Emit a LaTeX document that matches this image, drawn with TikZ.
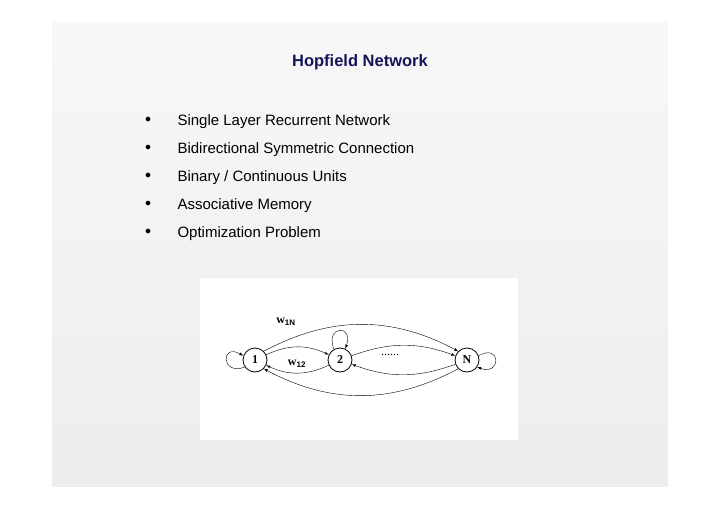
\documentclass[tikz,border=0pt]{standalone}
\usepackage{fontspec}
\setmainfont{Liberation Sans}
\newfontfamily\figfont{Liberation Serif}
\usetikzlibrary{arrows}
\definecolor{titleblue}{RGB}{20,20,90}
\begin{document}
\begin{tikzpicture}[x=1pt,y=-1pt,
            unit/.style={circle,draw,thick,minimum size=24pt,inner sep=0pt,font=\figfont\bfseries\fontsize{12}{14}\selectfont},
            bullet/.style={anchor=west,font=\fontsize{15}{18}\selectfont},
            link/.style={->,>=latex,thin},
            selfloop/.style={->,>=latex,thin,looseness=1,min distance=26pt}
        ]
        \useasboundingbox (0,0) rectangle (720,509);
        % Slide background %
        \shade[top color=gray!6,bottom color=gray!14] (52,22) rectangle (668,486);
        \node[font=\bfseries\fontsize{16.5}{19}\selectfont,text=titleblue] (title) at (360,62) {Hopfield Network};

        % Bullets %
        \foreach \t [count=\i] in {Single Layer Recurrent Network,Bidirectional Symmetric Connection,Binary / Continuous Units,Associative Memory,Optimization Problem}{
            \node[bullet] (b\i) at (174,94+28*\i) {\t};
            \node[font=\large] at (148,92+28*\i) {$\bullet$};
        }

        % Figure %
        \fill[white] (200,278) rectangle (518,440);
        \node[unit] (n1) at (255,360) {1};
        \node[unit] (n2) at (340,360) {2};
        \node[unit] (nN) at (467,360) {N};
        \draw[link] (n1) to[bend left=25] (n2);
        \draw[link] (n2) to[bend left=25] (n1);
        \draw[link] (n2) to[bend left=20] (nN);
        \draw[link] (nN) to[bend left=20] (n2);
        \draw[link] (n1.north east) to[bend left=28] (nN.north west);
        \draw[link] (nN.south west) to[bend left=28] (n1.south east);
        \draw[selfloop] (n1.215) to[out=200,in=150] (n1.160);
        \draw[selfloop] (n2.120) to[out=110,in=70] (n2.65);
        \draw[selfloop] (nN.20) to[out=30,in=-20] (nN.-35);
        \node[font=\figfont\bfseries\fontsize{12}{14}\selectfont] (w1N) at (286,322) {w$_{\mathbf{1N}}$};
        \node[font=\figfont\bfseries\fontsize{12}{14}\selectfont] (w12) at (297,364) {w$_{\mathbf{12}}$};
        \node[font=\figfont\fontsize{12}{14}\selectfont] (dots) at (390,355) {......};
\end{tikzpicture}
\end{document}
